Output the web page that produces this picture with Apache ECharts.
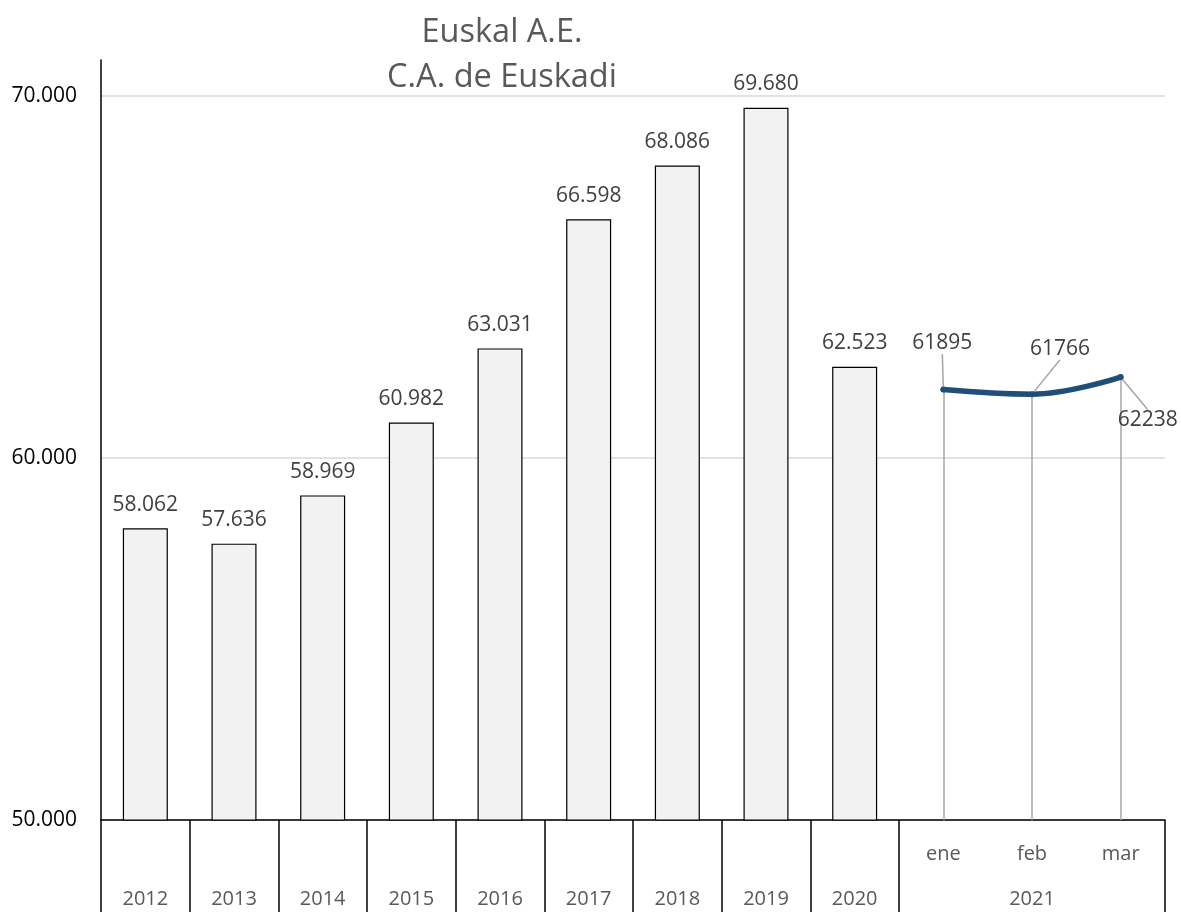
<!DOCTYPE html>
<html>
<head>
<meta charset="utf-8">
<script src="https://cdn.jsdelivr.net/npm/echarts@6/dist/echarts.min.js"></script>
<style>
html,body{margin:0;padding:0;background:#fff;overflow:hidden;}
#chart{width:1181px;height:922px;}
</style>
</head>
<body>
<div id="chart"></div>
<script>
// ---- data ----
const categories = ['2012','2013','2014','2015','2016','2017','2018','2019','2020','ene','feb','mar'];
const yearValues = [58062, 57636, 58969, 60982, 63031, 66598, 68086, 69680, 62523];
const monthLabels = ['ene','feb','mar'];
const monthValues = [61895, 61766, 62238];
const monthYear = '2021';
const titleLines = ['Euskal A.E.', 'C.A. de Euskadi'];
const yTicks = [50000, 60000, 70000];

const FONT = 'Open Sans';
const dotFmt = v => String(v).replace(/\B(?=(\d{3})+(?!\d))/g, '.');

const nYears = yearValues.length;
const barData = categories.map((c, i) => i < nYears ? yearValues[i] : null);
const lineData = categories.map((c, i) => i >= nYears ? monthValues[i - nYears] : null);
const dropLines = monthLabels.map((m, i) => [
  {coord: [m, monthValues[i]]},
  {coord: [m, yTicks[0]]}
]);
const labelOffsets = [[-1, -46], [28, -45], [27, 43]];

const chart = echarts.init(document.getElementById('chart'), null, {renderer: 'canvas', width: 1181, height: 922});
chart.setOption({
  animation: false,
  backgroundColor: '#ffffff',
  title: {
    text: titleLines.join('\n'),
    left: 497,
    top: 5,
    textAlign: 'center',
    textStyle: {fontFamily: FONT, fontSize: 32.5, fontWeight: 'normal', color: '#595959', lineHeight: 45}
  },
  grid: {left: 101, right: 16, top: 60, bottom: 90, containLabel: false},
  xAxis: {
    type: 'category',
    data: categories,
    boundaryGap: true,
    axisLine: {show: true, lineStyle: {color: '#000', width: 1.5}},
    axisTick: {
      show: true,
      length: 92,
      interval: function (index) { return index <= nYears; },
      lineStyle: {color: '#000', width: 1.5}
    },
    axisLabel: {
      interval: 0,
      margin: 12,
      fontFamily: FONT,
      fontSize: 20,
      color: '#595959',
      lineHeight: 45,
      formatter: function (v, i) {
        if (i < nYears) return '\n' + v;
        if (i === nYears + 1) return v + '\n' + monthYear;
        return v + '\n';
      }
    },
    splitLine: {show: false}
  },
  yAxis: {
    type: 'value',
    min: 50000,
    max: 71000,
    interval: 10000,
    axisLine: {show: true, lineStyle: {color: '#000', width: 1.5}},
    axisTick: {show: false},
    axisLabel: {
      showMaxLabel: false,
      margin: 24,
      fontFamily: FONT,
      fontSize: 21,
      color: '#000',
      formatter: v => dotFmt(v)
    },
    splitLine: {show: true, showMaxLine: false, lineStyle: {color: '#d9d9d9', width: 1.5}}
  },
  series: [
    {
      type: 'bar',
      data: barData,
      barWidth: 45,
      itemStyle: {color: '#f2f2f2', borderColor: '#000', borderWidth: 1.2},
      label: {
        show: true,
        position: 'top',
        distance: 13,
        fontFamily: FONT,
        fontSize: 21,
        color: '#404040',
        formatter: p => dotFmt(p.value)
      },
      z: 2
    },
    {
      type: 'line',
      data: lineData,
      smooth: 0.4,
      connectNulls: false,
      symbol: 'circle',
      symbolSize: 6,
      itemStyle: {color: '#1f4e79'},
      lineStyle: {color: '#1f4e79', width: 5.5, cap: 'round'},
      label: {
        show: true,
        position: 'inside',
        fontFamily: FONT,
        fontSize: 21,
        color: '#404040',
        formatter: p => String(p.value)
      },
      labelLine: {show: true, lineStyle: {color: '#a6a6a6', width: 1.5}},
      labelLayout: function (p) {
        const k = p.dataIndex - nYears;
        if (k < 0 || k >= labelOffsets.length) return {};
        const dx = labelOffsets[k][0], dy = labelOffsets[k][1];
        const lr = p.labelRect, r = p.rect;
        const cx = r.x + r.width / 2, cy = r.y + r.height / 2;
        const lx = lr.x + dx + lr.width / 2;
        const ly = dy < 0 ? lr.y + dy + lr.height + 4 : lr.y + dy - 3;
        return {dx: dx, dy: dy, labelLinePoints: [[cx, cy], [cx, cy], [lx, ly]]};
      },
      markLine: {
        silent: true,
        symbol: ['none', 'none'],
        label: {show: false},
        lineStyle: {color: '#a6a6a6', width: 1.5, type: 'solid'},
        data: dropLines,
        z: 1
      },
      z: 3
    }
  ]
});
</script>
</body>
</html>
